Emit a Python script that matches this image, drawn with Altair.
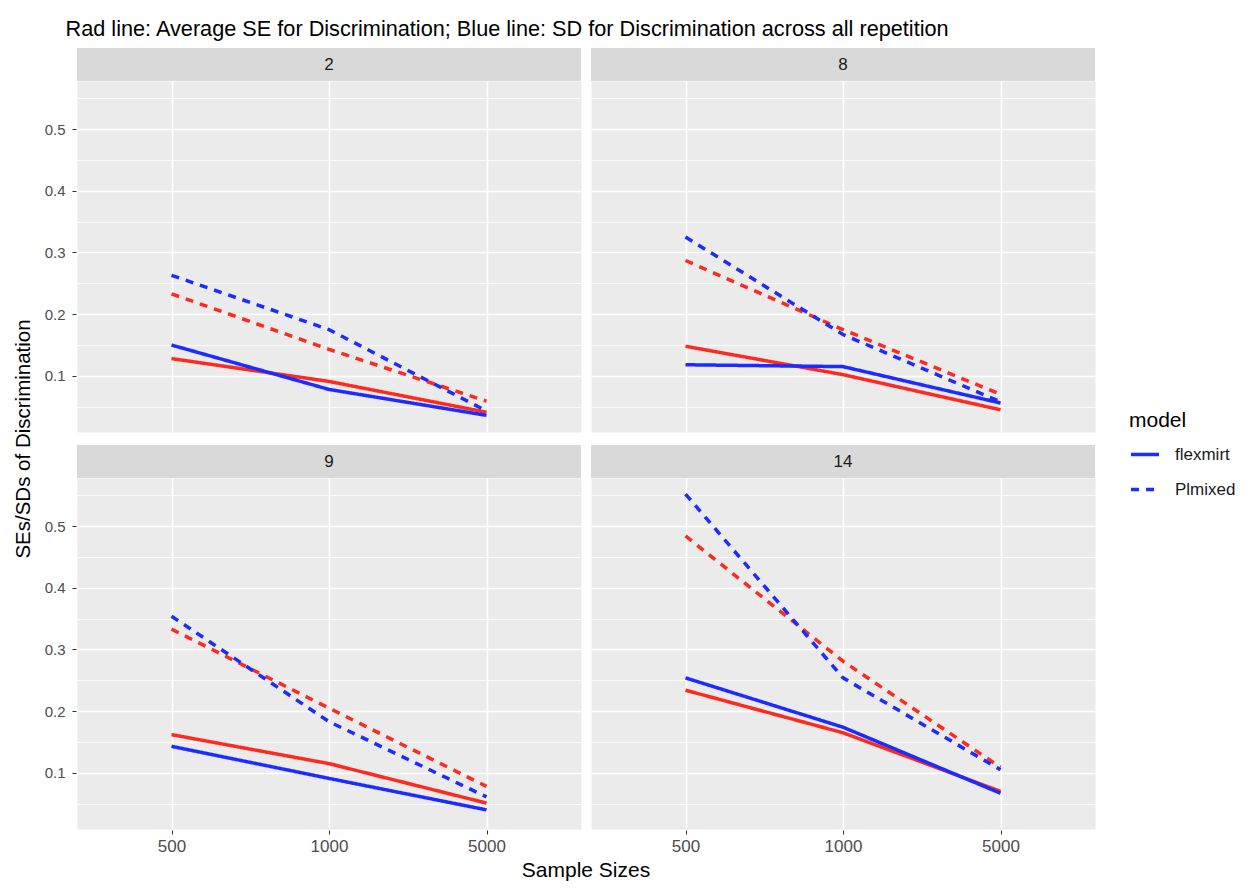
import altair as alt
import pandas as pd

FONT = "Liberation Sans"
RED = "#FF2A1F"
BLUE = "#1C2BFF"

PANELS = ["2", "8", "9", "14"]
PANEL_ROW = ["top", "top", "bottom", "bottom"]
PANEL_COL = ["left", "right", "left", "right"]
SIZES = ["500", "1000", "5000"]
MODELS = ["flexmirt", "Plmixed"]

# values ordered panel 2, 8, 9, 14; within each panel sizes 500, 1000, 5000
SE_FLEXMIRT = [0.128, 0.091, 0.041,
               0.148, 0.102, 0.045,
               0.162, 0.115, 0.051,
               0.234, 0.165, 0.070]
SD_FLEXMIRT = [0.150, 0.078, 0.036,
               0.118, 0.115, 0.056,
               0.143, 0.091, 0.040,
               0.254, 0.174, 0.067]
SE_PLMIXED = [0.233, 0.143, 0.059,
              0.287, 0.175, 0.070,
              0.333, 0.205, 0.078,
              0.484, 0.281, 0.109]
SD_PLMIXED = [0.263, 0.175, 0.043,
              0.325, 0.167, 0.058,
              0.354, 0.183, 0.061,
              0.552, 0.254, 0.105]

Y_MAJOR = [0.1, 0.2, 0.3, 0.4, 0.5]
Y_MINOR = [0.05, 0.15, 0.25, 0.35, 0.45, 0.55]

rows = []
for model, measure, vals in [("flexmirt", "SE", SE_FLEXMIRT), ("flexmirt", "SD", SD_FLEXMIRT),
                             ("Plmixed", "SE", SE_PLMIXED), ("Plmixed", "SD", SD_PLMIXED)]:
    for i, p in enumerate(PANELS):
        for j, s in enumerate(SIZES):
            rows.append({"panel": p, "prow": PANEL_ROW[i], "pcol": PANEL_COL[i],
                         "size": s, "model": model, "measure": measure,
                         "value": vals[i * 3 + j]})
df = pd.DataFrame(rows)

W, H = 504, 351
STRIP = 33
first = "datum.size == '500' && datum.model == 'flexmirt' && datum.measure == 'SE'"
major_test = "round(datum.value * 100) % 10 == 0"

base = alt.Chart()

strip_rect = base.mark_rect(color="#D9D9D9").encode(
    x=alt.value(0), x2=alt.value(W), y=alt.value(-STRIP), y2=alt.value(0)
).transform_filter(first)

strip_text = base.mark_text(fontSize=17, color="#1A1A1A", font=FONT, baseline="middle").encode(
    x=alt.value(W / 2), y=alt.value(-STRIP / 2), text="panel:N"
).transform_filter(first)

lines = base.mark_line(strokeWidth=3.5, strokeCap="butt").encode(
    x=alt.X("size:O", sort=SIZES, scale=alt.Scale(type="point", padding=0.6),
            title=None,
            axis=alt.Axis(labelAngle=0, grid=True, gridColor="white", gridWidth=1.6,
                          domain=False, tickColor="#333333", tickSize=4,
                          labelColor="#4D4D4D", labelFontSize=17, labelPadding=4)),
    y=alt.Y("value:Q", scale=alt.Scale(domain=[0.009, 0.578], nice=False, zero=False),
            title=None,
            axis=alt.Axis(values=sorted(Y_MAJOR + Y_MINOR),
                          labelExpr=major_test + " ? format(datum.value, '.1f') : ''",
                          grid=True, gridColor="white",
                          gridWidth={"condition": {"test": major_test, "value": 1.6}, "value": 0.8},
                          tickColor={"condition": {"test": major_test, "value": "#333333"},
                                     "value": "transparent"},
                          domain=False, tickSize=4, labelColor="#4D4D4D", labelFontSize=15,
                          labelPadding=7)),
    color=alt.Color("measure:N", scale=alt.Scale(domain=["SE", "SD"], range=[RED, BLUE]),
                    legend=None),
    strokeDash=alt.StrokeDash("model:N",
                              scale=alt.Scale(domain=MODELS, range=[[1, 0], [8, 7]]),
                              legend=alt.Legend(title="model", orient="none",
                                                legendX=1052, legendY=328.5,
                                                titleFontSize=21, titleFontWeight="normal",
                                                titleColor="#000000", titlePadding=8,
                                                labelFontSize=17, labelColor="#1A1A1A",
                                                labelOffset=14, symbolType="stroke",
                                                symbolSize=784, symbolStrokeWidth=3.5,
                                                symbolStrokeColor=BLUE, rowPadding=11,
                                                padding=0)),
    detail="measure:N",
)

layered = alt.layer(strip_rect, strip_text, lines).properties(width=W, height=H)

chart = layered.facet(
    row=alt.Row("prow:N", sort=["top", "bottom"], title="SEs/SDs of Discrimination",
                header=alt.Header(labels=False, titleOrient="left", titleFontSize=20.5,
                                  titleColor="#000000", titleFontWeight="normal",
                                  titlePadding=0)),
    column=alt.Column("pcol:N", sort=["left", "right"], title="Sample Sizes",
                      header=alt.Header(labels=False, titleOrient="bottom", titleFontSize=21,
                                        titleColor="#000000", titleFontWeight="normal",
                                        titlePadding=-4)),
    data=df,
    spacing={"row": 11, "column": 8},
).properties(
    title=alt.TitleParams(
        "Rad line: Average SE for Discrimination; Blue line: SD for Discrimination across all repetition",
        anchor="start", fontSize=21.7, font=FONT, color="#000000", fontWeight="normal",
        offset=6.5, dx=52),
    padding={"left": 5, "top": 11, "right": 3, "bottom": 0},
).configure(font=FONT).configure_view(fill="#EBEBEB", stroke="transparent")

chart.save("out.html", embed_options={"renderer": "svg", "actions": False})
